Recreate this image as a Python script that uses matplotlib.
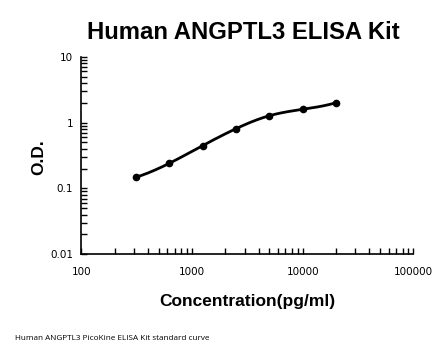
import numpy as np
import matplotlib
matplotlib.use("Agg")
import matplotlib.pyplot as plt
from matplotlib.ticker import LogLocator, FixedLocator, NullFormatter

# standard curve readings
conc = [312.5, 625, 1250, 2500, 5000, 10000, 20000]
od = [0.148, 0.241, 0.447, 0.808, 1.27, 1.59, 2.0]

x_ticks = [100, 1000, 10000, 100000]
x_labels = ["100", "1000", "10000", "100000"]
y_ticks = [0.01, 0.1, 1, 10]
y_labels = ["0.01", "0.1", "1", "10"]


def spline(xs, ys, n=40):
    # not-a-knot cubic spline through the points in log-log space
    x = np.log10(xs)
    y = np.log10(ys)
    m = len(x)
    h = np.diff(x)
    A = np.zeros((m, m))
    r = np.zeros(m)
    A[0, :3] = [1 / h[0], -(1 / h[0] + 1 / h[1]), 1 / h[1]]
    A[-1, -3:] = [1 / h[-2], -(1 / h[-2] + 1 / h[-1]), 1 / h[-1]]
    for i in range(1, m - 1):
        A[i, i - 1] = h[i - 1]
        A[i, i] = 2 * (h[i - 1] + h[i])
        A[i, i + 1] = h[i]
        r[i] = 6 * ((y[i + 1] - y[i]) / h[i] - (y[i] - y[i - 1]) / h[i - 1])
    M = np.linalg.solve(A, r)
    outx, outy = [], []
    for i in range(m - 1):
        t = np.linspace(x[i], x[i + 1], n)
        a = (x[i + 1] - t) / h[i]
        b = (t - x[i]) / h[i]
        s = (a * y[i] + b * y[i + 1]
             + ((a ** 3 - a) * M[i] + (b ** 3 - b) * M[i + 1]) * h[i] ** 2 / 6)
        outx.extend(t)
        outy.extend(s)
    return 10 ** np.array(outx), 10 ** np.array(outy)


fig = plt.figure(figsize=(4.46, 3.56), dpi=100)
ax = fig.add_axes([0.1823, 0.2857, 0.7444, 0.555])

sx, sy = spline(conc, od)
ax.plot(sx, sy, color="black", lw=2)
ax.plot(conc, od, "o", color="black", ms=4.5)

ax.set_xscale("log")
ax.set_yscale("log")
ax.set_xlim(100, 100000)
ax.set_ylim(0.01, 10)

ax.xaxis.set_major_locator(FixedLocator(x_ticks))
ax.set_xticklabels(x_labels)
ax.yaxis.set_major_locator(FixedLocator(y_ticks))
ax.set_yticklabels(y_labels)
ax.xaxis.set_minor_locator(LogLocator(base=10, subs=np.arange(2, 10)))
ax.yaxis.set_minor_locator(LogLocator(base=10, subs=np.arange(2, 10)))
ax.xaxis.set_minor_formatter(NullFormatter())
ax.yaxis.set_minor_formatter(NullFormatter())

for s in ["top", "right"]:
    ax.spines[s].set_visible(False)
for s in ["left", "bottom"]:
    ax.spines[s].set_linewidth(1.2)

ax.tick_params(which="both", direction="in", width=1, color="black")
ax.tick_params(which="major", length=4, labelsize=7.5)
ax.tick_params(axis="x", which="major", pad=9)
ax.tick_params(axis="y", which="major", pad=6)
ax.tick_params(which="minor", length=4)

fig.text(0.545, 0.91, "Human ANGPTL3 ELISA Kit", ha="center", va="center",
         fontsize=17.2, fontweight="bold", family="Liberation Sans")
ax.set_ylabel("O.D.", fontsize=12.5, fontweight="bold", family="Liberation Sans")
ax.yaxis.set_label_coords(-0.105, 0.49)
fig.text(0.555, 0.152, "Concentration(pg/ml)", ha="center", va="center",
         fontsize=12.5, fontweight="bold", family="Liberation Sans")
fig.text(0.034, 0.048, "Human ANGPTL3 PicoKine ELISA Kit standard curve", ha="left",
         va="center", fontsize=5.9, family="Open Sans")

fig.savefig("out.png", dpi=100)
